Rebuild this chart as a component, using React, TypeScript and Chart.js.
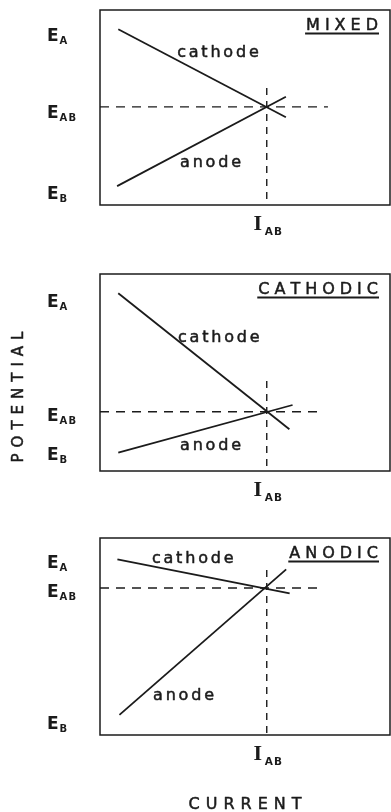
import React, { useEffect, useRef } from 'react';
import { Chart, registerables } from 'chart.js';

Chart.register(...registerables);

type Pt = [number, number];

// ---- data (current on x 0..100, potential on y 0..100) ----
const panelTitles = ['MIXED', 'CATHODIC', 'ANODIC'];
const potentialTickNames = ['A', 'AB', 'B'];
const currentTickName = 'AB';
const lineNames = ['cathode', 'anode'];
const yAxisTitle = 'POTENTIAL';
const xAxisTitle = 'CURRENT';

const cathodeMixed: Pt[] = [[6.3, 90.1], [64.1, 45.0]];
const anodeMixed: Pt[] = [[5.9, 9.7], [64.1, 55.5]];
const cathodeCathodic: Pt[] = [[6.3, 90.2], [65.3, 21.2]];
const anodeCathodic: Pt[] = [[6.3, 9.3], [66.4, 33.5]];
const cathodeAnodic: Pt[] = [[6.0, 89.2], [65.4, 71.9]];
const anodeAnodic: Pt[] = [[6.7, 10.2], [64.2, 84.1]];

const intersectionCurrent = [57.5, 57.5, 57.5];
const intersectionPotential = [50.3, 30.1, 74.6];
const potentialTicksMixed = [87.2, 47.7, 6.2];
const potentialTicksCathodic = [86.3, 28.9, 9.1];
const potentialTicksAnodic = [88.3, 73.1, 6.1];
const potentialDashEnd = [78.6, 76.2, 75.2];
const currentDashTop = [60.0, 45.7, 83.8];
const cathodeLabelAt: Pt[] = [[26.6, 75.9], [26.9, 65.5], [17.9, 87.3]];
const anodeLabelAt: Pt[] = [[27.6, 19.5], [27.6, 10.7], [18.3, 17.8]];

const cathodes = [cathodeMixed, cathodeCathodic, cathodeAnodic];
const anodes = [anodeMixed, anodeCathodic, anodeAnodic];
const potentialTicks = [potentialTicksMixed, potentialTicksCathodic, potentialTicksAnodic];

// ---- layout (pixels) ----
const panelLayout = [
  { top: 0, height: 260, padTop: 10, padBottom: 55 },
  { top: 260, height: 260, padTop: 14, padBottom: 49 },
  { top: 520, height: 292, padTop: 18, padBottom: 77 },
];

const INK = '#1b1b1b';
const SANS = "'DejaVu Sans'";

function drawSpaced(
  ctx: CanvasRenderingContext2D,
  text: string,
  x: number,
  y: number,
  spacing: number,
  align: 'left' | 'center' | 'right',
  weight = 0
) {
  const chars = text.split('');
  const widths = chars.map((c) => ctx.measureText(c).width);
  const total = widths.reduce((a, b) => a + b, 0) + spacing * (chars.length - 1);
  const start = align === 'left' ? x : align === 'center' ? x - total / 2 : x - total;
  let cx = start;
  ctx.textAlign = 'left';
  chars.forEach((c, i) => {
    ctx.fillText(c, cx, y);
    if (weight > 0) {
      ctx.lineWidth = weight;
      ctx.strokeText(c, cx, y);
    }
    cx += widths[i] + spacing;
  });
  return { start, width: total };
}

function toData(p: Pt[]) {
  return p.map(([x, y]) => ({ x, y }));
}

function Panel({ index }: { index: number }) {
  const ref = useRef<HTMLCanvasElement | null>(null);
  const lay = panelLayout[index];

  useEffect(() => {
    if (!ref.current) return;
    const iab = intersectionCurrent[index];
    const eab = intersectionPotential[index];

    const overlay = {
      id: 'overlay' + index,
      afterDraw(chart: any) {
        const ctx: CanvasRenderingContext2D = chart.ctx;
        const area = chart.chartArea;
        const xs = chart.scales.x;
        const ys = chart.scales.y;
        ctx.save();
        // frame
        ctx.strokeStyle = INK;
        ctx.lineWidth = 1.5;
        ctx.strokeRect(area.left, area.top, area.right - area.left, area.bottom - area.top);

        ctx.fillStyle = INK;
        ctx.textBaseline = 'alphabetic';
        ctx.lineJoin = 'round';

        // potential tick labels  E_A, E_AB, E_B
        potentialTicks[index].forEach((v, i) => {
          const py = ys.getPixelForValue(v);
          const baseline = py + 6.5;
          const ex = area.left - 53;
          ctx.font = `bold 17px ${SANS}`;
          ctx.textAlign = 'left';
          ctx.fillText('E', ex, baseline);
          const ew = ctx.measureText('E').width;
          ctx.font = `bold 10px ${SANS}`;
          drawSpaced(ctx, potentialTickNames[i], ex + ew + 1, baseline + 3, 1.2, 'left');
        });

        // current tick label I_AB
        const ipx = xs.getPixelForValue(iab);
        ctx.font = `bold 22px 'Liberation Serif'`;
        ctx.textAlign = 'center';
        ctx.fillText('I', ipx - 9, area.bottom + 25);
        ctx.font = `bold 10.5px ${SANS}`;
        drawSpaced(ctx, currentTickName, ipx - 2, area.bottom + 30, 1.2, 'left');

        // panel title, underlined
        ctx.font = `16px ${SANS}`;
        const tb = area.top + 20;
        const r = drawSpaced(ctx, panelTitles[index], area.right - 12, tb, 5, 'right', 0.5);
        ctx.lineWidth = 2;
        ctx.beginPath();
        ctx.moveTo(r.start - 1, tb + 3.5);
        ctx.lineTo(r.start + r.width + 1, tb + 3.5);
        ctx.stroke();

        // line labels
        ctx.font = `16px ${SANS}`;
        const cl = cathodeLabelAt[index];
        drawSpaced(ctx, lineNames[0], xs.getPixelForValue(cl[0]), ys.getPixelForValue(cl[1]), 2.8, 'left', 0.5);
        const al = anodeLabelAt[index];
        drawSpaced(ctx, lineNames[1], xs.getPixelForValue(al[0]), ys.getPixelForValue(al[1]), 2.8, 'left', 0.5);

        // axis titles
        if (index === 1) {
          ctx.save();
          ctx.font = `15px ${SANS}`;
          ctx.translate(17.5, 397 - lay.top);
          ctx.rotate(-Math.PI / 2);
          drawSpaced(ctx, yAxisTitle, 0, 5.5, 6, 'center', 0.5);
          ctx.restore();
        }
        if (index === 2) {
          ctx.font = `16px ${SANS}`;
          drawSpaced(ctx, xAxisTitle, 245, 809 - lay.top, 6, 'center', 0.5);
        }
        ctx.restore();
      },
    };

    const solid = { borderColor: INK, borderWidth: 1.8, pointRadius: 0, showLine: true, fill: false };
    const dashed = { borderColor: INK, borderWidth: 1.4, borderDash: [9, 7], pointRadius: 0, showLine: true, fill: false };

    const chart = new Chart(ref.current, {
      type: 'scatter',
      data: {
        datasets: [
          { label: lineNames[0], data: toData(cathodes[index]), ...solid },
          { label: lineNames[1], data: toData(anodes[index]), ...solid },
          { label: 'E_AB', data: toData([[0, eab], [potentialDashEnd[index], eab]]), ...dashed },
          { label: 'I_AB', data: toData([[iab, currentDashTop[index]], [iab, 0]]), ...dashed, borderDash: [7, 6] },
        ],
      },
      options: {
        animation: false,
        responsive: false,
        devicePixelRatio: 1,
        layout: { padding: { left: 100, right: 1, top: lay.padTop, bottom: lay.padBottom } },
        scales: {
          x: { type: 'linear', min: 0, max: 100, display: false },
          y: { type: 'linear', min: 0, max: 100, display: false },
        },
        plugins: { legend: { display: false }, tooltip: { enabled: false } },
        elements: { line: { tension: 0, borderCapStyle: 'butt' } },
      } as any,
      plugins: [overlay],
    });
    return () => chart.destroy();
  }, [index]);

  return (
    <canvas
      ref={ref}
      width={391}
      height={lay.height}
      style={{ position: 'absolute', left: 0, top: lay.top, width: 391, height: lay.height }}
    />
  );
}

export default function App() {
  return (
    <div style={{ position: 'absolute', left: 0, top: 0, width: 391, height: 812, background: '#fff', overflow: 'hidden' }}>
      <Panel index={0} />
      <Panel index={1} />
      <Panel index={2} />
    </div>
  );
}
